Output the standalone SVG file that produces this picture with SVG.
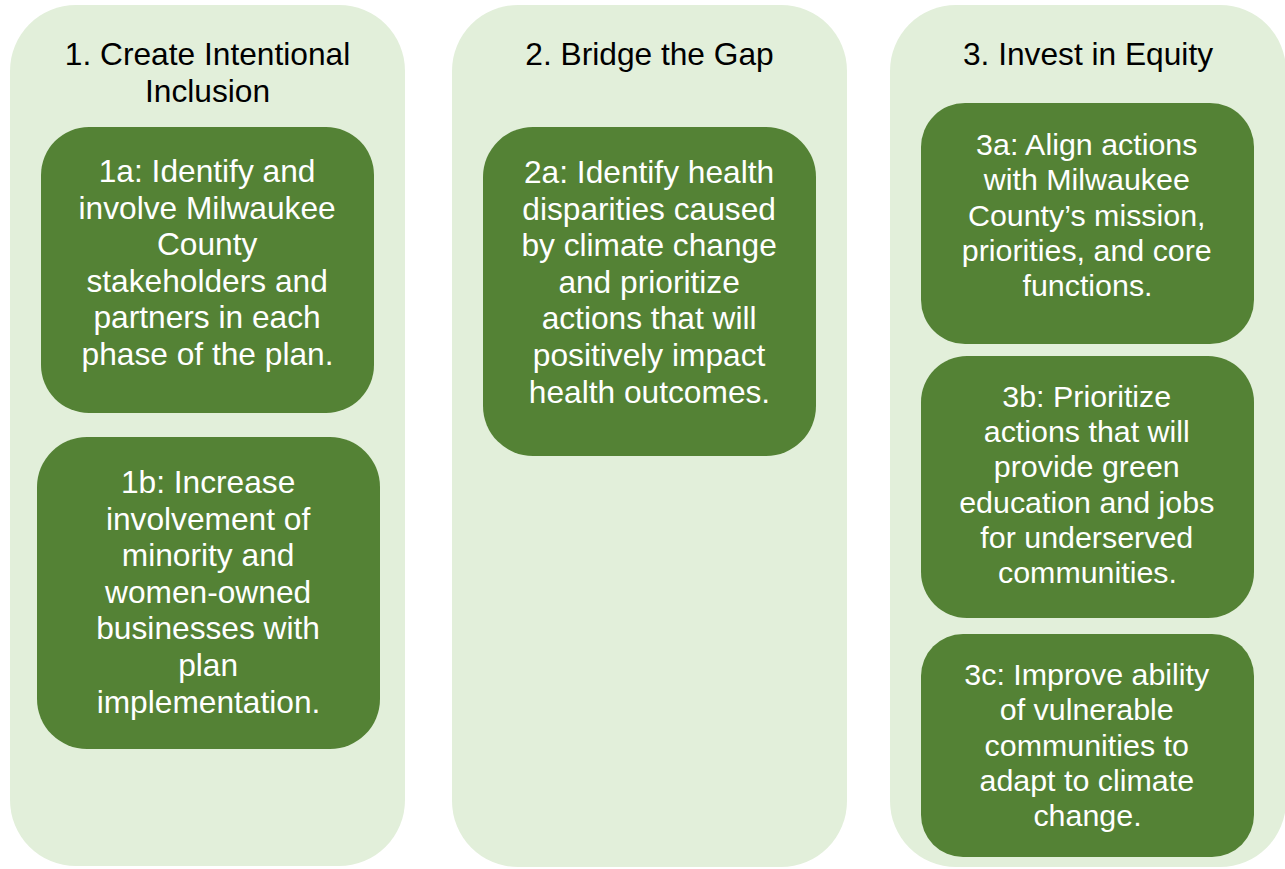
<svg xmlns="http://www.w3.org/2000/svg" width="1285" height="869" viewBox="0 0 1285 869">
  <style>
    .lane { fill: #E2EFDA; }
    .box { fill: #548235; }
    .head { font-family: "Liberation Sans", Arial, sans-serif; font-size: 31.7px; fill: #000000; text-anchor: middle; }
    .txt { font-family: "Liberation Sans", Arial, sans-serif; font-size: 31.7px; fill: #FFFFFF; text-anchor: middle; }
    .txt3 { font-family: "Liberation Sans", Arial, sans-serif; font-size: 30.4px; fill: #FFFFFF; text-anchor: middle; }
  </style>
  <rect width="1285" height="869" fill="#FFFFFF"/>

  <!-- Column 1 -->
  <g id="lane1">
    <rect class="lane" x="10" y="5" width="395" height="861" rx="66" ry="66"/>
    <text class="head" x="207.5" y="65">1. Create Intentional</text>
    <text class="head" x="207.5" y="102">Inclusion</text>
  </g>
  <g id="node-1a">
    <rect class="box" x="41" y="127" width="333" height="286" rx="48" ry="48"/>
    <text class="txt" x="211.5" y="182">
      <tspan x="211.5" y="182">1a: Identify and</tspan>
      <tspan x="211.5" y="218.6">involve Milwaukee</tspan>
      <tspan x="211.5" y="255.2">County</tspan>
      <tspan x="211.5" y="291.8">stakeholders and</tspan>
      <tspan x="211.5" y="328.4">partners in each</tspan>
      <tspan x="207.5" y="365">phase of the plan.</tspan>
    </text>
  </g>
  <g id="node-1b">
    <rect class="box" x="37" y="437" width="343" height="312" rx="50" ry="50"/>
    <text class="txt" x="212.5" y="493">
      <tspan x="212.5" y="493">1b: Increase</tspan>
      <tspan x="212.5" y="529.6">involvement of</tspan>
      <tspan x="212.5" y="566.2">minority and</tspan>
      <tspan x="212.5" y="602.8">women-owned</tspan>
      <tspan x="212.5" y="639.4">businesses with</tspan>
      <tspan x="212.5" y="676">plan</tspan>
      <tspan x="208.5" y="712.6">implementation.</tspan>
    </text>
  </g>

  <!-- Column 2 -->
  <g id="lane2">
    <rect class="lane" x="452" y="5" width="395" height="862" rx="66" ry="66"/>
    <text class="head" x="649.5" y="65">2. Bridge the Gap</text>
  </g>
  <g id="node-2a">
    <rect class="box" x="483" y="127" width="333" height="329" rx="50" ry="50"/>
    <text class="txt" x="653.5" y="183">
      <tspan x="653.5" y="183">2a: Identify health</tspan>
      <tspan x="653.5" y="219.6">disparities caused</tspan>
      <tspan x="653.5" y="256.2">by climate change</tspan>
      <tspan x="653.5" y="292.8">and prioritize</tspan>
      <tspan x="653.5" y="329.4">actions that will</tspan>
      <tspan x="653.5" y="366">positively impact</tspan>
      <tspan x="649.5" y="402.6">health outcomes.</tspan>
    </text>
  </g>

  <!-- Column 3 -->
  <g id="lane3">
    <rect class="lane" x="890" y="5" width="396" height="862" rx="66" ry="66"/>
    <text class="head" x="1088" y="65">3. Invest in Equity</text>
  </g>
  <g id="node-3a">
    <rect class="box" x="921" y="103" width="333" height="241" rx="44" ry="44"/>
    <text class="txt3" x="1091" y="155">
      <tspan x="1091" y="155">3a: Align actions</tspan>
      <tspan x="1091" y="190.25">with Milwaukee</tspan>
      <tspan x="1091" y="225.5">County’s mission,</tspan>
      <tspan x="1091" y="260.75">priorities, and core</tspan>
      <tspan x="1087.5" y="296">functions.</tspan>
    </text>
  </g>
  <g id="node-3b">
    <rect class="box" x="921" y="356" width="333" height="262" rx="46" ry="46"/>
    <text class="txt3" x="1091" y="407">
      <tspan x="1091" y="407">3b: Prioritize</tspan>
      <tspan x="1091" y="442.2">actions that will</tspan>
      <tspan x="1091" y="477.4">provide green</tspan>
      <tspan x="1091" y="512.6">education and jobs</tspan>
      <tspan x="1091" y="547.8">for underserved</tspan>
      <tspan x="1087.5" y="583">communities.</tspan>
    </text>
  </g>
  <g id="node-3c">
    <rect class="box" x="921" y="634" width="333" height="223" rx="42" ry="42"/>
    <text class="txt3" x="1091" y="685">
      <tspan x="1091" y="685">3c: Improve ability</tspan>
      <tspan x="1091" y="720.25">of vulnerable</tspan>
      <tspan x="1091" y="755.5">communities to</tspan>
      <tspan x="1091" y="790.75">adapt to climate</tspan>
      <tspan x="1087.5" y="826">change.</tspan>
    </text>
  </g>

  <!-- no connectors are drawn between these columns -->
  <g id="connectors"/>
</svg>
